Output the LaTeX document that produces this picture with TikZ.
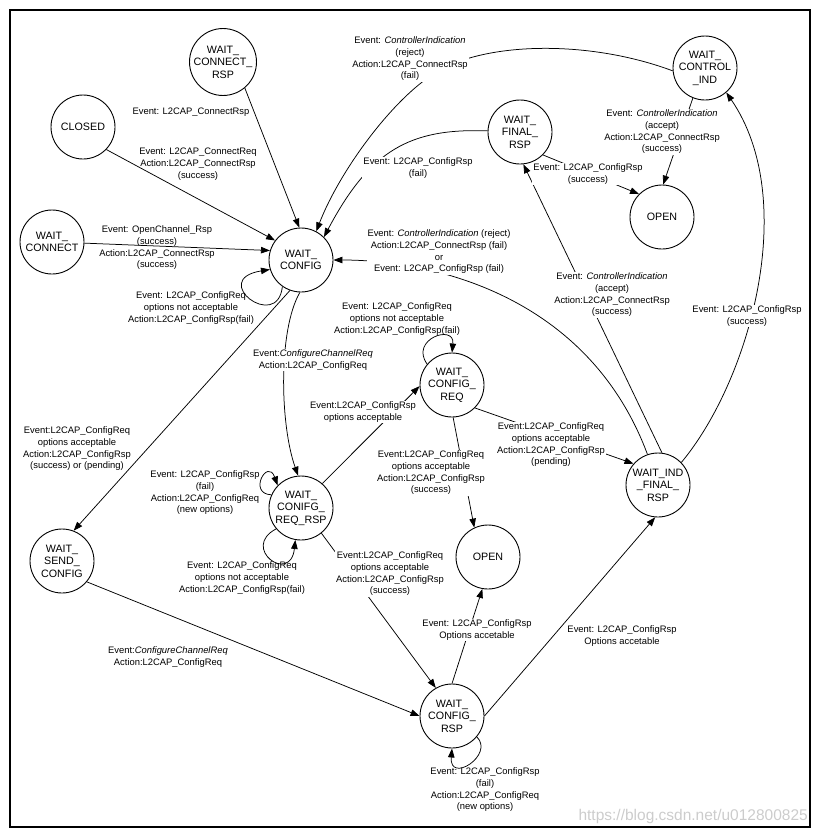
\documentclass[tikz,border=0pt]{standalone}
\usepackage{fontspec}
\setmainfont{Liberation Sans}
\usetikzlibrary{arrows.meta}
\begin{document}
\begin{tikzpicture}[x=1pt,y=1pt,
 st/.style={circle,draw,line width=0.9pt,minimum size=64pt,inner sep=0pt,align=center,font=\fontsize{10.7pt}{12.5pt}\selectfont},
 lb/.style={align=center,inner sep=1pt,font=\fontsize{9.4pt}{11.7pt}\selectfont},
 lbw/.style={lb,fill=white},
 tr/.style={line width=0.75pt,-{Triangle[length=9pt,width=6.5pt]}}]
\useasboundingbox (0,0) rectangle (818,-836);
\draw[line width=1.1pt] (10,-10) rectangle (810,-827);
% states
\node[st] (wcr) at (223,-62) {WAIT\_\\CONNECT\_\\RSP};
\node[st] (closed) at (83,-127) {CLOSED};
\node[st] (wconn) at (52,-242) {WAIT\_\\CONNECT};
\node[st] (wc) at (301,-260) {WAIT\_\\CONFIG};
\node[st] (wci) at (705,-68) {WAIT\_\\CONTROL\\\_IND};
\node[st] (wfr) at (520,-132) {WAIT\_\\FINAL\_\\RSP};
\node[st] (open1) at (662,-217) {OPEN};
\node[st] (wcreq) at (452,-385) {WAIT\_\\CONFIG\_\\REQ};
\node[st] (wind) at (658,-485) {WAIT\_IND\\\_FINAL\_\\RSP};
\node[st] (wcrr) at (301,-508) {WAIT\_\\CONIFG\_\\REQ\_RSP};
\node[st] (wsc) at (62,-561) {WAIT\_\\SEND\_\\CONFIG};
\node[st] (open2) at (488,-557) {OPEN};
\node[st] (wcrsp) at (452,-716) {WAIT\_\\CONFIG\_\\RSP};
% straight transitions
\draw[tr] (wcr.-50) -- (wc.93);
\draw[tr] (closed.-44) -- (wc.143);
\draw[tr] (wconn.-2) -- (wc.163);
\draw[tr] (wc.250) -- (wsc.69);
\draw[tr] (wcrr.49) -- (wcreq.182);
\draw[tr] (wcreq.-45) -- (wind.139);
\draw[tr] (wcreq.-88) -- (open2.115);
\draw[tr] (wcrr.-51) -- (wcrsp.120);
\draw[tr] (wsc.-40) -- (wcrsp.180);
\draw[tr] (wcrsp.90) -- (open2.-100);
\draw[tr] (wcrsp.0) -- (wind.265);
\draw[tr] (wind.83) -- (wfr.-84);
\draw[tr] (wci.-112) -- (open1.88);
\draw[tr] (wfr.-45) -- (open1.135);
% curved transitions
\draw[tr] (wci.185) .. controls (590,-40) and (490,-42) .. (440,-70) .. controls (395,-95) and (340,-170) .. (wc.62);
\draw[tr] (wfr.178) .. controls (410,-128) and (370,-150) .. (wc.45);
\draw[tr] (wc.268) .. controls (278,-330) and (280,-425) .. (wcrr.95);
\draw[tr] (wind.109) .. controls (590,-300) and (440,-260) .. (wc.east);
\draw[tr] (wind.44) .. controls (750,-380) and (800,-200) .. (wci.-49);
% self loops
\draw[tr] (wc.235) .. controls +(-5,-46) and +(-62,-10) .. (wc.197);
\draw[tr] (wcrr.156) .. controls +(-24,1) and +(-10,28) .. (wcrr.136);
\draw[tr] (wcrr.220) .. controls +(-36,-19) and +(-5,-45) .. (wcrr.260);
\draw[tr] (wcreq.140) .. controls +(-18,25) and +(3,29) .. (wcreq.90);
\draw[tr] (wcrsp.-40) .. controls +(18,-18) and +(-3,-36) .. (wcrsp.270);
% labels
\node[lb] at (191,-112) {Event: L2CAP\_ConnectRsp};
\node[lb] at (198,-164) {Event: L2CAP\_ConnectReq\\Action:L2CAP\_ConnectRsp\\(success)};
\node[lb] at (157,-248) {Event: OpenChannel\_Rsp\\(success)\\Action:L2CAP\_ConnectRsp\\(success)};
\node[lbw] at (410,-59) {Event: \textit{ControllerIndication}\\(reject)\\Action:L2CAP\_ConnectRsp\\(fail)};
\node[lbw] at (418,-168) {Event: L2CAP\_ConfigRsp\\(fail)};
\node[lb] at (191,-308) {Event: L2CAP\_ConfigReq\\options not acceptable\\Action:L2CAP\_ConfigRsp(fail)};
\node[lb] at (77,-449) {Event:L2CAP\_ConfigReq\\options acceptable\\Action:L2CAP\_ConfigRsp\\(success) or (pending)};
\node[lbw] at (313,-360) {Event:\textit{ConfigureChannelReq}\\Action:L2CAP\_ConfigReq};
\node[lb] at (205,-493) {Event: L2CAP\_ConfigRsp\\(fail)\\Action:L2CAP\_ConfigReq\\(new options)};
\node[lb] at (242,-578) {Event: L2CAP\_ConfigReq\\options not acceptable\\Action:L2CAP\_ConfigRsp(fail)};
\node[lbw] at (363,-412) {Event:L2CAP\_ConfigRsp\\options acceptable};
\node[lb] at (397,-319) {Event: L2CAP\_ConfigReq\\options not acceptable\\Action:L2CAP\_ConfigRsp(fail)};
\node[lbw] at (551,-445) {Event:L2CAP\_ConfigReq\\options acceptable\\Action:L2CAP\_ConfigRsp\\(pending)};
\node[lbw] at (431,-473) {Event:L2CAP\_ConfigReq\\options acceptable\\Action:L2CAP\_ConfigRsp\\(success)};
\node[lbw] at (390,-574) {Event:L2CAP\_ConfigReq\\options acceptable\\Action:L2CAP\_ConfigRsp\\(success)};
\node[lb] at (168,-657) {Event:\textit{ConfigureChannelReq}\\Action:L2CAP\_ConfigReq};
\node[lbw] at (477,-630) {Event: L2CAP\_ConfigRsp\\Options accetable};
\node[lb] at (622,-636) {Event: L2CAP\_ConfigRsp\\Options accetable};
\node[lb] at (485,-790) {Event: L2CAP\_ConfigRsp\\(fail)\\Action:L2CAP\_ConfigReq\\(new options)};
\node[lbw] at (439,-252) {Event: \textit{ControllerIndication} (reject)\\Action:L2CAP\_ConnectRsp (fail)\\or\\Event: L2CAP\_ConfigRsp (fail)};
\node[lbw] at (612,-295) {Event: \textit{ControllerIndication}\\(accept)\\Action:L2CAP\_ConnectRsp\\(success)};
\node[lbw] at (747,-316) {Event: L2CAP\_ConfigRsp\\(success)};
\node[lbw] at (662,-132) {Event: \textit{ControllerIndication}\\(accept)\\Action:L2CAP\_ConnectRsp\\(success)};
\node[lbw] at (588,-174) {Event: L2CAP\_ConfigRsp\\(success)};
\node[anchor=south east,text=black!20,inner sep=0pt,font=\fontsize{15.5pt}{16pt}\selectfont] (wm) at (808,-824) {https://blog.csdn.net/u012800825};
\end{tikzpicture}
\end{document}
